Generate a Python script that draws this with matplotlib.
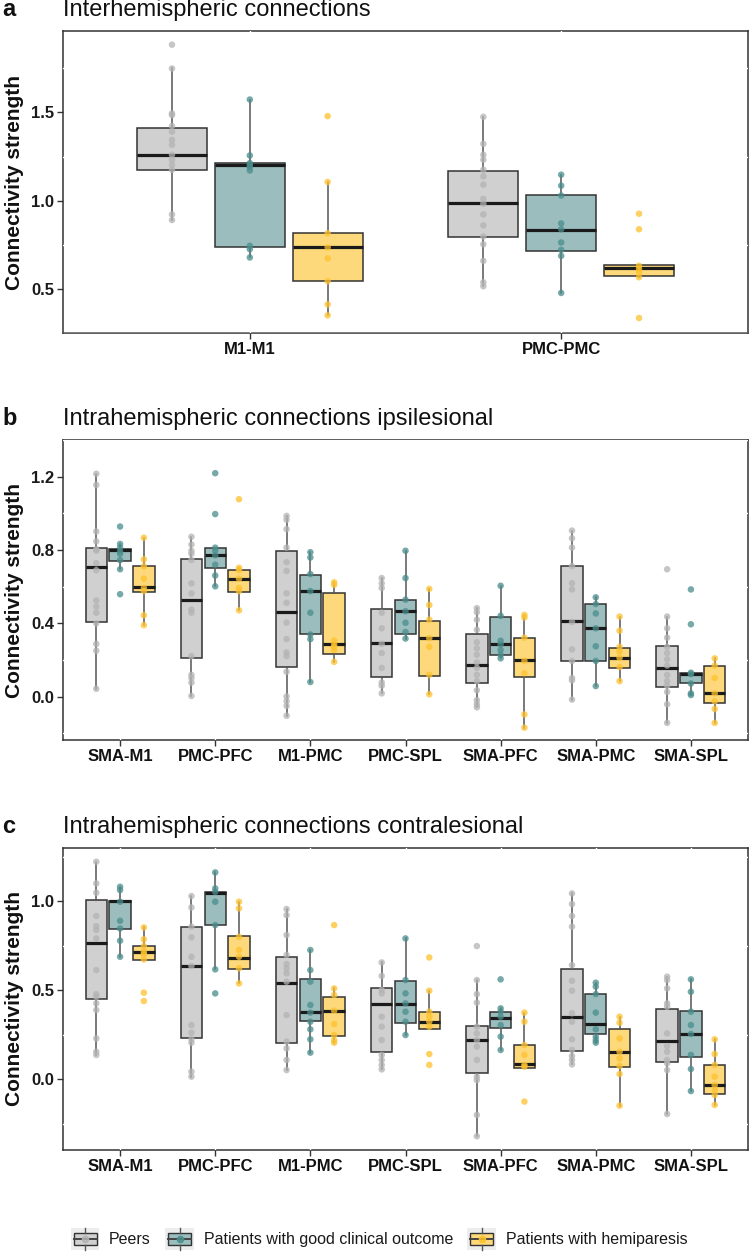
import matplotlib
matplotlib.use('Agg')
import matplotlib.pyplot as plt
from matplotlib.patches import Rectangle, Patch
from matplotlib.lines import Line2D
from matplotlib.legend_handler import HandlerBase
import numpy as np

plt.rcParams['font.family'] = ['Liberation Sans', 'DejaVu Sans']

# ---------------- data ----------------
groups = ['Peers', 'Patients with good clinical outcome', 'Patients with hemiparesis']

# Panel a : interhemispheric
a_cats = ['M1-M1', 'PMC-PMC']
# box stats: [whisker low, q1, median, q3, whisker high]
a_peers_box = [[0.890, 1.171, 1.260, 1.413, 1.749],
               [0.515, 0.793, 0.984, 1.166, 1.475]]
a_good_box = [[0.678, 0.740, 1.204, 1.213, 1.573],
              [0.477, 0.716, 0.834, 1.031, 1.147]]
a_hemi_box = [[0.350, 0.543, 0.735, 0.815, 1.106],
              [0.566, 0.575, 0.616, 0.635, 0.635]]
a_peers_pts = [[1.884, 1.749, 1.494, 1.485, 1.423, 1.391, 1.344, 1.316, 1.260, 1.232, 1.203, 1.175, 0.922, 0.890],
               [1.475, 1.322, 1.260, 1.232, 1.175, 1.138, 1.091, 1.010, 0.982, 0.922, 0.860, 0.797, 0.753, 0.659, 0.537, 0.515]]
a_good_pts = [[1.573, 1.256, 1.213, 1.200, 1.190, 1.171, 0.744, 0.725, 0.678],
              [1.147, 1.085, 1.029, 0.871, 0.838, 0.763, 0.721, 0.687, 0.477]]
a_hemi_pts = [[1.479, 1.106, 0.815, 0.735, 0.673, 0.543, 0.412, 0.350],
              [0.926, 0.838, 0.631, 0.613, 0.594, 0.566, 0.335]]

# Panel b : intrahemispheric ipsilesional
b_cats = ['SMA-M1', 'PMC-PFC', 'M1-PMC', 'PMC-SPL', 'SMA-PFC', 'SMA-PMC', 'SMA-SPL']
b_peers_box = [[0.043, 0.410, 0.708, 0.813, 1.216],
               [0.004, 0.209, 0.530, 0.752, 0.872],
               [-0.104, 0.162, 0.461, 0.793, 0.986],
               [0.018, 0.106, 0.292, 0.478, 0.647],
               [-0.058, 0.072, 0.173, 0.343, 0.483],
               [-0.016, 0.195, 0.412, 0.712, 0.906],
               [-0.143, 0.052, 0.158, 0.275, 0.437]]
b_good_box = [[0.695, 0.740, 0.801, 0.808, 0.833],
              [0.602, 0.700, 0.771, 0.813, 0.813],
              [0.080, 0.343, 0.576, 0.664, 0.788],
              [0.317, 0.343, 0.466, 0.530, 0.796],
              [0.209, 0.226, 0.285, 0.437, 0.605],
              [0.058, 0.195, 0.373, 0.503, 0.542],
              [0.009, 0.072, 0.123, 0.131, 0.131]]
b_hemi_box = [[0.390, 0.569, 0.596, 0.711, 0.867],
              [0.471, 0.571, 0.644, 0.691, 0.703],
              [0.190, 0.234, 0.285, 0.563, 0.624],
              [0.013, 0.114, 0.319, 0.415, 0.588],
              [-0.169, 0.106, 0.199, 0.322, 0.446],
              [0.085, 0.158, 0.212, 0.266, 0.437],
              [-0.143, -0.036, 0.018, 0.167, 0.209]]
b_peers_pts = [[1.216, 1.155, 0.901, 0.847, 0.805, 0.796, 0.728, 0.690, 0.525, 0.492, 0.458, 0.400, 0.288, 0.251, 0.043],
               [0.872, 0.830, 0.796, 0.779, 0.745, 0.618, 0.563, 0.475, 0.458, 0.221, 0.119, 0.102, 0.077, 0.004],
               [0.986, 0.965, 0.914, 0.813, 0.734, 0.686, 0.564, 0.512, 0.404, 0.314, 0.241, 0.221, 0.136, 0.001, -0.024, -0.050, -0.104],
               [0.647, 0.618, 0.593, 0.458, 0.373, 0.288, 0.238, 0.157, 0.077, 0.060, 0.018],
               [0.483, 0.461, 0.420, 0.365, 0.297, 0.263, 0.229, 0.187, 0.157, 0.119, 0.085, 0.035, -0.019, -0.041, -0.058],
               [0.906, 0.864, 0.813, 0.712, 0.619, 0.585, 0.407, 0.258, 0.195, 0.102, 0.089, -0.016],
               [0.695, 0.437, 0.373, 0.322, 0.272, 0.238, 0.204, 0.170, 0.119, 0.085, 0.060, 0.026, -0.041, -0.143]]
b_good_pts = [[0.928, 0.833, 0.813, 0.793, 0.779, 0.745, 0.695, 0.559],
              [1.219, 0.996, 0.813, 0.796, 0.771, 0.720, 0.661, 0.602],
              [0.788, 0.759, 0.669, 0.576, 0.458, 0.339, 0.314, 0.080],
              [0.796, 0.647, 0.529, 0.466, 0.403, 0.353, 0.317],
              [0.605, 0.441, 0.305, 0.285, 0.255, 0.229, 0.209],
              [0.542, 0.505, 0.454, 0.373, 0.275, 0.195, 0.058],
              [0.585, 0.395, 0.131, 0.123, 0.072, 0.018, 0.009]]
b_hemi_pts = [[0.867, 0.749, 0.711, 0.644, 0.593, 0.576, 0.444, 0.390],
              [1.077, 0.703, 0.691, 0.644, 0.593, 0.576, 0.471],
              [0.624, 0.610, 0.306, 0.285, 0.272, 0.255, 0.190],
              [0.588, 0.500, 0.420, 0.319, 0.272, 0.119, 0.013],
              [0.446, 0.432, 0.322, 0.196, 0.128, -0.097, -0.169],
              [0.437, 0.360, 0.272, 0.246, 0.212, 0.162, 0.085],
              [0.209, 0.170, 0.102, 0.018, -0.025, -0.067, -0.143]]

# Panel c : intrahemispheric contralesional
c_cats = ['SMA-M1', 'PMC-PFC', 'M1-PMC', 'PMC-SPL', 'SMA-PFC', 'SMA-PMC', 'SMA-SPL']
c_peers_box = [[0.137, 0.449, 0.764, 1.007, 1.223],
               [0.015, 0.230, 0.639, 0.858, 1.030],
               [0.052, 0.202, 0.543, 0.685, 0.957],
               [0.056, 0.155, 0.423, 0.515, 0.657],
               [-0.320, 0.037, 0.221, 0.300, 0.558],
               [0.084, 0.157, 0.348, 0.620, 1.045],
               [-0.195, 0.096, 0.215, 0.393, 0.577]]
c_good_box = [[0.689, 0.843, 1.000, 1.004, 1.082],
              [0.618, 0.865, 1.049, 1.051, 1.163],
              [0.150, 0.328, 0.376, 0.562, 0.727],
              [0.249, 0.318, 0.421, 0.552, 0.792],
              [0.165, 0.290, 0.346, 0.380, 0.399],
              [0.206, 0.255, 0.311, 0.478, 0.543],
              [-0.066, 0.127, 0.253, 0.386, 0.562]]
c_hemi_box = [[0.670, 0.670, 0.713, 0.749, 0.854],
              [0.539, 0.618, 0.684, 0.805, 0.998],
              [0.206, 0.245, 0.386, 0.464, 0.511],
              [0.283, 0.283, 0.324, 0.380, 0.498],
              [0.066, 0.066, 0.084, 0.193, 0.375],
              [-0.148, 0.071, 0.155, 0.283, 0.352],
              [-0.144, -0.082, -0.032, 0.081, 0.225]]
c_peers_pts = [[1.223, 1.101, 1.049, 0.918, 0.861, 0.839, 0.792, 0.614, 0.479, 0.464, 0.427, 0.390, 0.230, 0.155, 0.137],
               [1.030, 0.966, 0.858, 0.798, 0.689, 0.637, 0.305, 0.262, 0.225, 0.206, 0.043, 0.015],
               [0.957, 0.923, 0.811, 0.699, 0.648, 0.624, 0.596, 0.549, 0.361, 0.212, 0.174, 0.109, 0.052],
               [0.657, 0.581, 0.502, 0.483, 0.352, 0.296, 0.221, 0.137, 0.109, 0.081, 0.056],
               [0.749, 0.558, 0.479, 0.431, 0.296, 0.258, 0.221, 0.184, 0.109, 0.015, -0.004, -0.200, -0.320],
               [1.045, 0.985, 0.918, 0.858, 0.642, 0.554, 0.498, 0.371, 0.324, 0.225, 0.165, 0.131, 0.109, 0.084],
               [0.577, 0.558, 0.511, 0.427, 0.408, 0.258, 0.187, 0.155, 0.109, 0.090, 0.052, -0.195]]
c_good_pts = [[1.082, 1.064, 0.998, 0.891, 0.848, 0.779, 0.689],
              [1.163, 1.073, 1.054, 0.998, 0.867, 0.618, 0.483],
              [0.727, 0.614, 0.549, 0.418, 0.375, 0.324, 0.281, 0.225, 0.150],
              [0.792, 0.558, 0.483, 0.427, 0.380, 0.324, 0.249],
              [0.562, 0.399, 0.380, 0.352, 0.305, 0.240, 0.165],
              [0.543, 0.521, 0.479, 0.375, 0.281, 0.240, 0.221, 0.206],
              [0.562, 0.492, 0.380, 0.305, 0.255, 0.137, 0.058, -0.066]]
c_hemi_pts = [[0.854, 0.787, 0.749, 0.717, 0.704, 0.674, 0.487, 0.440],
              [0.998, 0.961, 0.801, 0.727, 0.689, 0.624, 0.539],
              [0.867, 0.511, 0.474, 0.386, 0.311, 0.249, 0.221, 0.206],
              [0.685, 0.498, 0.380, 0.352, 0.324, 0.296, 0.142, 0.081],
              [0.375, 0.324, 0.193, 0.137, 0.081, 0.071, -0.125],
              [0.352, 0.318, 0.230, 0.155, 0.118, 0.075, 0.030, -0.148],
              [0.225, 0.142, 0.081, 0.015, -0.032, -0.060, -0.088, -0.144]]

a_yticks = [0.5, 1.0, 1.5]
b_yticks = [0.0, 0.4, 0.8, 1.2]
c_yticks = [0.0, 0.5, 1.0]

titles = ['Interhemispheric connections',
          'Intrahemispheric connections ipsilesional',
          'Intrahemispheric connections contralesional']
letters = ['a', 'b', 'c']

# ---------------- style ----------------
box_colors = ['#d0d0d0', '#9bbdbd', '#fed97b']
pt_colors = ['#b3b3b3', '#4a8d8d', '#fdc12c']
edge = '#333333'

W, H = 749, 1253
fig = plt.figure(figsize=(W / 100, H / 100), dpi=100)

# axes placement in pixels (top, bottom)
ax_left, ax_right = 63, 748
panel_px = [(31, 333), (440, 740.4), (848, 1150)]


def draw_panel(ax, cats, boxes, pts, yticks):
    n = len(cats)
    base = np.arange(1, n + 1)
    allv = []
    for gi in range(3):
        pos = base + (gi - 1) * 0.25
        stats = [dict(whislo=b[0], q1=b[1], med=b[2], q3=b[3], whishi=b[4]) for b in boxes[gi]]
        ax.bxp(stats, positions=pos, widths=0.225, patch_artist=True,
               showfliers=False, showcaps=False, manage_ticks=False,
               boxprops=dict(facecolor=box_colors[gi], edgecolor=edge, linewidth=1.1),
               medianprops=dict(color='#1a1a1a', linewidth=2.3, solid_capstyle='butt'),
               whiskerprops=dict(color='#555555', linewidth=1.1), zorder=3)
        for p, vals in zip(pos, pts[gi]):
            ax.scatter(np.full(len(vals), p), vals, s=22, color=pt_colors[gi],
                       alpha=0.75, edgecolors='none', zorder=4)
            allv.extend(vals)
        for b in boxes[gi]:
            allv.extend(b)
    lo, hi = min(allv), max(allv)
    pad = 0.05 * (hi - lo)
    ax.set_ylim(lo - pad, hi + pad)
    ax.set_xlim(0.4, n + 0.6)
    ax.set_xticks(base)
    ax.set_xticklabels(cats, fontsize=12, fontweight='bold', color='#111111')
    ax.set_yticks(yticks)
    ax.set_yticklabels([f'{t:.1f}' for t in yticks], fontsize=12, fontweight='bold', color='#1a1a1a')
    step = yticks[1] - yticks[0]
    minor = [t + step / 2 for t in [yticks[0] - step] + list(yticks)]
    ax.set_yticks(minor, minor=True)
    ax.tick_params(which='major', length=4, width=1.0, color=edge, pad=2.5)
    ax.tick_params(which='minor', length=0)
    ax.grid(axis='x', which='major', color='white', linewidth=1.0)
    ax.grid(axis='y', which='minor', color='white', linewidth=1.0)
    ax.set_axisbelow(False)
    for s in ax.spines.values():
        s.set_color(edge)
        s.set_linewidth(1.1)
        s.set_zorder(2.4)
    ax.set_ylabel('Connectivity strength', fontsize=15, fontweight='bold', color='#111111')
    ax.yaxis.set_label_coords((24 - ax_left) / (ax_right - ax_left), 0.5)


data = [(a_cats, [a_peers_box, a_good_box, a_hemi_box], [a_peers_pts, a_good_pts, a_hemi_pts], a_yticks),
        (b_cats, [b_peers_box, b_good_box, b_hemi_box], [b_peers_pts, b_good_pts, b_hemi_pts], b_yticks),
        (c_cats, [c_peers_box, c_good_box, c_hemi_box], [c_peers_pts, c_good_pts, c_hemi_pts], c_yticks)]

for i, ((top, bot), (cats, boxes, pts, yt)) in enumerate(zip(panel_px, data)):
    ax = fig.add_axes([ax_left / W, (H - bot) / H, (ax_right - ax_left) / W, (bot - top) / H])
    draw_panel(ax, cats, boxes, pts, yt)
    fig.text(2 / W, 1 - (top - 15) / H, letters[i], fontsize=17, fontweight='bold',
             va='baseline', ha='left', color='#111111')
    fig.text(ax_left / W, 1 - (top - 15) / H, titles[i], fontsize=17,
             va='baseline', ha='left', color='#111111')


# ---------------- legend ----------------
class BoxHandler(HandlerBase):
    def __init__(self, fc, pc):
        super().__init__()
        self.fc = fc
        self.pc = pc

    def create_artists(self, legend, orig_handle, xdescent, ydescent, width, height, fontsize, trans):
        x0, y0 = -xdescent, -ydescent
        bg = Rectangle((x0, y0), width, height, facecolor='#ededed', edgecolor='none', transform=trans)
        bx = Rectangle((x0 + 0.1 * width, y0 + 0.22 * height), 0.8 * width, 0.56 * height,
                       facecolor=self.fc, edgecolor=edge, linewidth=1.0, transform=trans)
        xc = x0 + width / 2
        wt = Line2D([xc, xc], [y0 + 0.78 * height, y0 + height], color='#555555', lw=1.0, transform=trans)
        wb = Line2D([xc, xc], [y0, y0 + 0.22 * height], color='#555555', lw=1.0, transform=trans)
        md = Line2D([x0 + 0.1 * width, x0 + 0.9 * width], [y0 + height / 2] * 2, color='#444444', lw=1.4,
                    transform=trans)
        dot = Line2D([xc], [y0 + height / 2], marker='o', markersize=4.5, color=self.pc, alpha=0.85,
                     linestyle='none', transform=trans)
        return [bg, bx, wt, wb, md, dot]


handles = [Patch(label=g) for g in groups]
hmap = {h: BoxHandler(box_colors[i], pt_colors[i]) for i, h in enumerate(handles)}
fig.legend(handles, groups, handler_map=hmap, loc='center',
           bbox_to_anchor=(0.506, 1 - 1239 / H), ncol=3, frameon=False, fontsize=11.5,
           handlelength=1.8, handleheight=1.8, handletextpad=0.6, columnspacing=0.9,
           borderpad=0, borderaxespad=0, labelcolor='#1a1a1a')

fig.savefig('out.png', dpi=100)
